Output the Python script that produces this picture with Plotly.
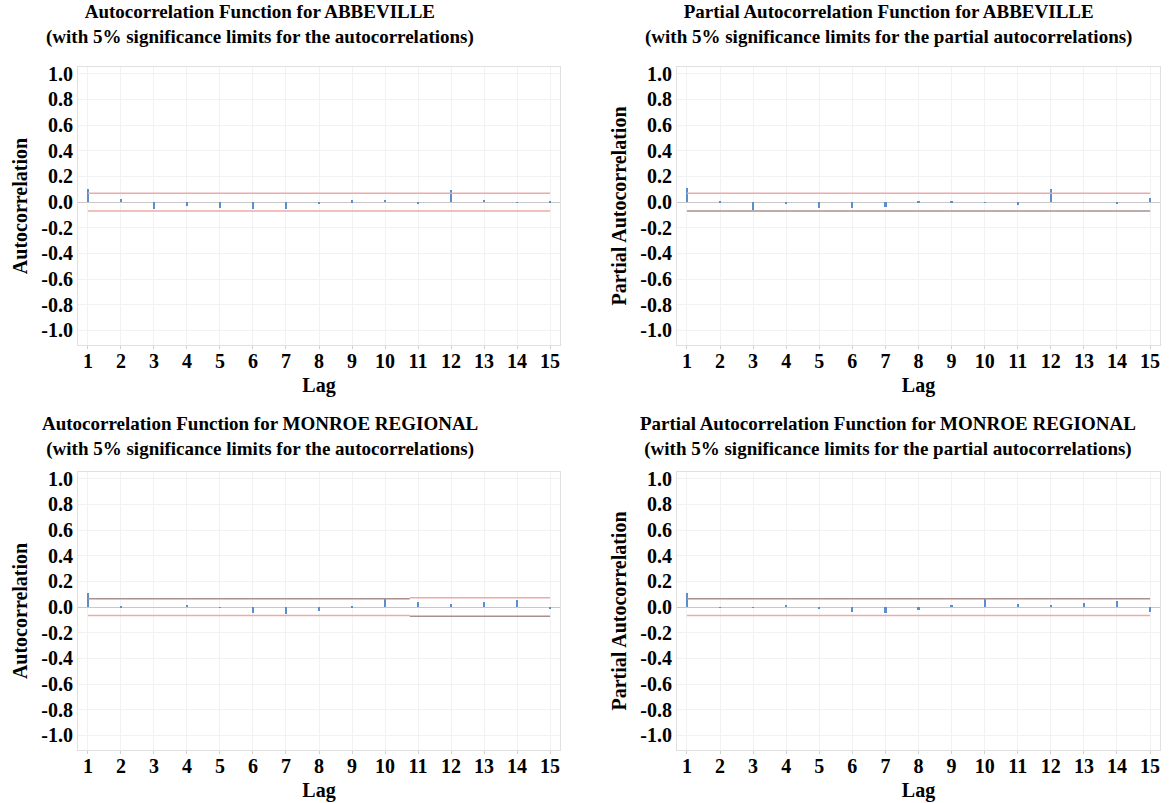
import plotly.graph_objects as go

lags = list(range(1, 16))

acf_abbeville = [0.106, 0.023, -0.048, -0.028, -0.040, -0.048, -0.050, -0.005,
                 0.015, 0.020, -0.010, 0.100, 0.020, -0.003, 0.012]
pacf_abbeville = [0.116, 0.005, -0.060, -0.010, -0.040, -0.040, -0.038, 0.005,
                  0.005, 0.003, -0.020, 0.108, 0.000, -0.010, 0.035]
acf_monroe = [0.115, 0.005, 0.000, 0.018, -0.003, -0.040, -0.049, -0.030,
              0.013, 0.064, 0.044, 0.028, 0.040, 0.060, -0.015]
pacf_monroe = [0.115, -0.003, -0.002, 0.018, -0.008, -0.038, -0.040, -0.023,
               0.018, 0.064, 0.030, 0.020, 0.035, 0.046, -0.035]

# 5% significance limits per lag
lim_acf_abbeville = [0.069] * 15
lim_pacf_abbeville = [0.069] * 15
lim_acf_monroe = [0.065] * 10 + [0.072] * 5
lim_pacf_monroe = [0.065] * 15

title_line1 = [
    "Autocorrelation Function for ABBEVILLE",
    "Partial Autocorrelation Function for ABBEVILLE",
    "Autocorrelation Function for MONROE REGIONAL",
    "Partial Autocorrelation Function for MONROE REGIONAL",
]
title_line2 = [
    "(with 5% significance limits for the autocorrelations)",
    "(with 5% significance limits for the partial autocorrelations)",
    "(with 5% significance limits for the autocorrelations)",
    "(with 5% significance limits for the partial autocorrelations)",
]
ytitles = ["Autocorrelation", "Partial Autocorrelation", "Autocorrelation", "Partial Autocorrelation"]
yticks = [1.0, 0.8, 0.6, 0.4, 0.2, 0.0, -0.2, -0.4, -0.6, -0.8, -1.0]
ytick_text = [f"{v:.1f}" for v in yticks]

series = [acf_abbeville, pacf_abbeville, acf_monroe, pacf_monroe]
limits = [lim_acf_abbeville, lim_pacf_abbeville, lim_acf_monroe, lim_pacf_monroe]

PINK = "#eeaaaa"
DARK = "#a89090"
BAR = "#5b8fc9"
# colours of (upper, lower) limit lines per panel, before / after change point
line_cols = [
    ((PINK, PINK), (PINK, PINK)),
    ((PINK, DARK), (PINK, DARK)),
    ((DARK, PINK), (PINK, DARK)),
    ((DARK, PINK), (DARK, PINK)),
]

W, H = 1171, 803
xdoms = [(78 / W, 560 / W), (677 / W, 1160 / W)]
ydoms = [((H - 343) / H, (H - 63) / H), ((H - 750) / H, (H - 470) / H)]
title_x = [260, 888]
title_y = [21, 435]

FONT = "Liberation Serif"
fig = go.Figure()

for i in range(4):
    r, c = divmod(i, 2)
    ax = "" if i == 0 else str(i + 1)
    xa, ya = "x" + ax, "y" + ax
    vals = series[i]
    lim = limits[i]
    fig.add_trace(go.Bar(x=lags, y=vals, base=0, width=0.07, marker_color=BAR,
                         marker_line_width=0, xaxis=xa, yaxis=ya, showlegend=False))
    segs = []
    start = 0
    for k in range(1, 16):
        if k == 15 or lim[k] != lim[start]:
            segs.append((start, k - 1))
            start = k
    for si, (a, b) in enumerate(segs):
        x0 = lags[a] if a == 0 else lags[a] - 0.25
        x1 = lags[b] if b == 14 else lags[b] + 0.75
        colU = line_cols[i][0][0] if si == 0 else line_cols[i][1][0]
        colL = line_cols[i][0][1] if si == 0 else line_cols[i][1][1]
        fig.add_trace(go.Scatter(x=[x0, x1], y=[lim[a], lim[a]], mode="lines",
                                 line=dict(color=colU, width=1.5), xaxis=xa, yaxis=ya,
                                 showlegend=False, hoverinfo="skip"))
        fig.add_trace(go.Scatter(x=[x0, x1], y=[-lim[a], -lim[a]], mode="lines",
                                 line=dict(color=colL, width=1.5), xaxis=xa, yaxis=ya,
                                 showlegend=False, hoverinfo="skip"))

    fig.layout["xaxis" + ax] = dict(
        domain=xdoms[c], anchor=ya, range=[0.7, 15.3], tickvals=lags,
        tickfont=dict(family=FONT, size=20, color="black", weight="bold"),
        showgrid=True, gridcolor="#f2f2f2", zeroline=False,
        showline=True, linecolor="#e0e0e0", mirror=True,
        ticks="outside", ticklen=3, tickcolor="#d0d0d0", ticklabelstandoff=-5,
        title=dict(text="Lag", font=dict(family=FONT, size=20, color="black", weight="bold"),
                   standoff=6),
    )
    fig.layout["yaxis" + ax] = dict(
        domain=ydoms[r], anchor=xa, range=[-1.116, 1.055], tickvals=yticks, ticktext=ytick_text,
        tickfont=dict(family=FONT, size=20, color="black", weight="bold"),
        showgrid=True, gridcolor="#f2f2f2", zeroline=True, zerolinecolor="#c8c8c8",
        zerolinewidth=1, showline=True, linecolor="#e0e0e0", mirror=True,
        title=dict(text=ytitles[i], font=dict(family=FONT, size=20, color="black", weight="bold"),
                   standoff=8),
    )
    fig.add_annotation(text="<b>" + title_line1[i] + "<br>" + title_line2[i] + "</b>",
                       xref="paper", yref="paper",
                       x=title_x[c] / W, y=1 - title_y[r] / H,
                       xanchor="center", yanchor="middle", showarrow=False,
                       font=dict(family=FONT, size=19, color="black"))

fig.update_layout(width=W, height=H, margin=dict(l=0, r=0, t=0, b=0),
                  plot_bgcolor="white", paper_bgcolor="white", bargap=0)
fig.write_html("out.html", config={"displayModeBar": False},
               post_script="document.body.style.margin='0';document.body.style.padding='0';"
                           "document.body.style.overflow='hidden';")
